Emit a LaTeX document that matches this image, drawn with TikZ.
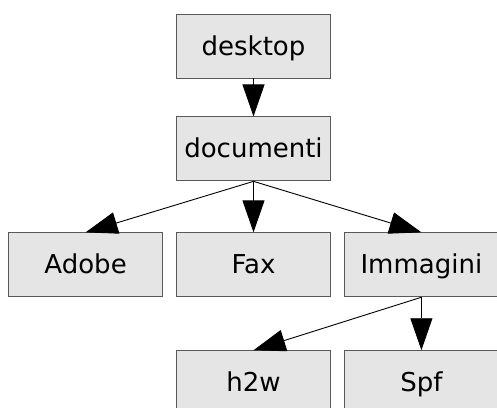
\documentclass[tikz,border=0pt]{standalone}
\usepackage{fontspec}
\setmainfont{DejaVu Sans}
\usetikzlibrary{arrows.meta,positioning}

\begin{document}
\begin{tikzpicture}[
    folder/.style={draw=black!65, fill=black!10, line width=0.9pt,
        minimum width=154pt, minimum height=64pt, inner sep=0pt,
        text height=20pt, text depth=2pt,
        font=\fontsize{26}{30}\selectfont},
    link/.style={-{Triangle[length=32pt, width=22pt]}, line width=0.9pt},
    node distance=51pt and 13pt]
        \useasboundingbox (0,0) rectangle (497pt,-407pt);
        \clip (0,0) rectangle (497pt,-407pt);

        % top of the tree
        \node[folder] (desktop) at (253.5pt,-46pt) {desktop};
        \node[folder, below=38pt of desktop] (documenti) {documenti};

        % subfolders of documenti
        \node[folder, below=of documenti] (fax) {Fax};
        \node[folder, left=of fax] (adobe) {Adobe};
        \node[folder, right=of fax] (immagini) {Immagini};

        % subfolders of Immagini
        \node[folder, below=53pt of immagini] (spf) {Spf};
        \node[folder, left=of spf] (h2w) {h2w};

        % Arrows
        \draw[link] (desktop) -- (documenti);
        \draw[link] (documenti.south) -- (adobe.north);
        \draw[link] (documenti.south) -- (fax.north);
        \draw[link] (documenti.south) -- (immagini.north);
        \draw[link] (immagini.south) -- (h2w.north);
        \draw[link] (immagini.south) -- (spf.north);
    \end{tikzpicture}
\end{document}
